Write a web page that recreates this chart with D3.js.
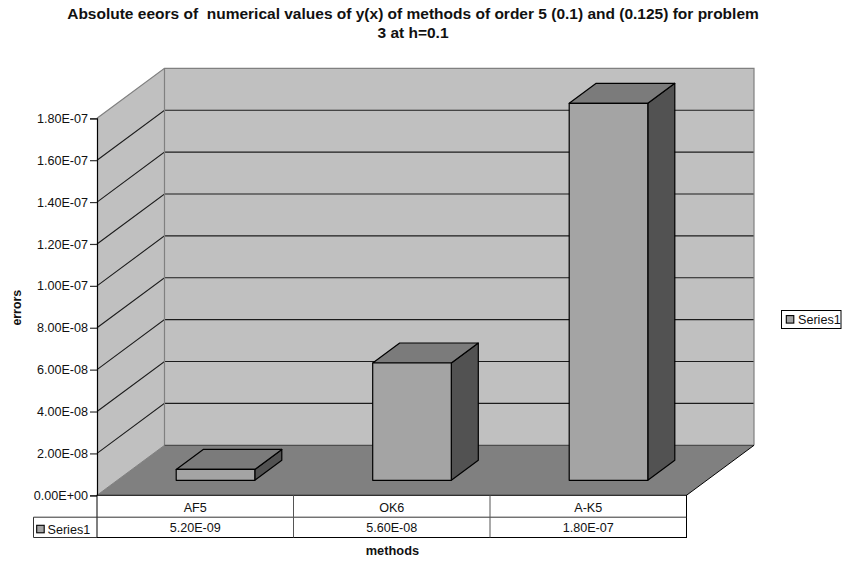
<!DOCTYPE html>
<html>
<head>
<meta charset="utf-8">
<script src="https://cdn.jsdelivr.net/npm/d3@7/dist/d3.min.js"></script>
<style>
  html, body { margin: 0; padding: 0; background: #fff; }
  svg { display: block; }
  text { font-family: "Liberation Sans", Arial, sans-serif; fill: #111; }
</style>
</head>
<body>
<svg id="chart" width="842" height="561"></svg>
<script>
// Chart content
const categories = ["AF5", "OK6", "A-K5"];
const seriesName = "Series1";
const seriesValues = [5.2e-9, 5.6e-8, 1.8e-7];
const yTicks = [0, 2e-8, 4e-8, 6e-8, 8e-8, 1e-7, 1.2e-7, 1.4e-7, 1.6e-7, 1.8e-7];
const titleLines = [
  "Absolute eeors of  numerical values of y(x) of methods of order 5 (0.1) and (0.125) for problem",
  "3 at h=0.1"
];
const xTitle = "methods";
const yTitle = "errors";

// Scientific notation with a two-digit exponent, e.g. 5.20E-09
function sci(v) {
  const [m, e] = v.toExponential(2).split("e");
  const n = +e;
  return m + "E" + (n < 0 ? "-" : "+") + String(Math.abs(n)).padStart(2, "0");
}

const svg = d3.select("#chart");

// Oblique projection: the front plane is at depth 0, the back wall at depth 1
const left = 97, right = 686.5, base = 495.3;
const depthX = 67.5, depthY = -50;
const yMax = yTicks[yTicks.length - 1];
const x = d3.scaleBand().domain(categories).range([left, right]).paddingInner(0).paddingOuter(0);
const y = d3.scaleLinear().domain([0, yMax]).range([base, 118.3]);
const project = (px, py, d) => [px + depthX * d, py + depthY * d];
const poly = pts => pts.map(p => p.join(",")).join(" ");

const wall = "#c0c0c0", floor = "#808080", edge = "#808080", grid = "#1c1c1c";
const textSize = 12.6;

// Side wall
svg.append("polygon")
  .attr("points", poly([project(left, y(0), 0), project(left, y(yMax), 0), project(left, y(yMax), 1), project(left, y(0), 1)]))
  .attr("fill", wall);

// Back wall
svg.append("polygon")
  .attr("points", poly([project(left, y(0), 1), project(left, y(yMax), 1), project(right, y(yMax), 1), project(right, y(0), 1)]))
  .attr("fill", wall);

// Floor
svg.append("polygon")
  .attr("points", poly([project(left, y(0), 0), project(left, y(0), 1), project(right, y(0), 1), project(right, y(0), 0)]))
  .attr("fill", floor);

// Grid lines run across the side wall and the back wall
const gridTicks = yTicks.filter(t => t > 0 && t < yMax);
svg.append("g").selectAll("polyline").data(gridTicks).join("polyline")
  .attr("points", t => poly([project(left, y(t), 0), project(left, y(t), 1), project(right, y(t), 1)]))
  .attr("fill", "none")
  .attr("stroke", grid)
  .attr("stroke-width", 1.1);

// Wall outlines drawn above the grid
const outline = svg.append("g").attr("fill", "none");
outline.append("polyline")
  .attr("points", poly([project(left, y(yMax), 0), project(left, y(yMax), 1), project(right, y(yMax), 1), project(right, y(0), 1)]))
  .attr("stroke", edge).attr("stroke-width", 1.2);
outline.append("line")
  .attr("x1", project(left, 0, 1)[0]).attr("x2", project(left, 0, 1)[0])
  .attr("y1", project(0, y(yMax), 1)[1]).attr("y2", project(0, y(0), 1)[1])
  .attr("stroke", edge).attr("stroke-width", 1.2);
outline.append("polyline")
  .attr("points", poly([project(left, y(0), 0), project(left, y(0), 1)]))
  .attr("stroke", edge).attr("stroke-width", 1);
outline.append("line")
  .attr("x1", project(left, 0, 1)[0]).attr("x2", project(right, 0, 1)[0])
  .attr("y1", project(0, y(0), 1)[1]).attr("y2", project(0, y(0), 1)[1])
  .attr("stroke", "#4d4d4d").attr("stroke-width", 1.2);
outline.append("line")
  .attr("x1", project(right, y(0), 0)[0]).attr("y1", project(right, y(0), 0)[1])
  .attr("x2", project(right, y(0), 1)[0]).attr("y2", project(right, y(0), 1)[1])
  .attr("stroke", "#000").attr("stroke-width", 1);

// Bars: each occupies the middle 40% of its slot in width and in depth
const barD0 = 0.3, barD1 = 0.7;
const barW = x.bandwidth() * 0.4;
const bars = svg.append("g").attr("stroke", "#000").attr("stroke-width", 1.2).attr("stroke-linejoin", "round");
categories.forEach((c, i) => {
  const x0 = x(c) + (x.bandwidth() - barW) / 2, x1 = x0 + barW;
  const yb = y(0), yt = y(seriesValues[i]);
  bars.append("polygon")
    .attr("points", poly([project(x1, yb, barD0), project(x1, yt, barD0), project(x1, yt, barD1), project(x1, yb, barD1)]))
    .attr("fill", "#525252");
  bars.append("polygon")
    .attr("points", poly([project(x0, yt, barD0), project(x0, yt, barD1), project(x1, yt, barD1), project(x1, yt, barD0)]))
    .attr("fill", "#7b7b7b");
  bars.append("polygon")
    .attr("points", poly([project(x0, yb, barD0), project(x0, yt, barD0), project(x1, yt, barD0), project(x1, yb, barD0)]))
    .attr("fill", "#a4a4a4");
});

// Value axis on the front-left edge
const axis = d3.axisLeft(y).tickValues(yTicks).tickFormat(sci).tickSize(7).tickPadding(2);
const axisG = svg.append("g").attr("transform", `translate(${left},0)`).call(axis);
axisG.select(".domain").attr("stroke", "#000").attr("stroke-width", 1.2);
axisG.selectAll(".tick line").attr("stroke", "#333").attr("stroke-width", 1.2);
axisG.selectAll(".tick text").attr("font-size", textSize).style("font-family", '"Liberation Sans", Arial, sans-serif');

// Data table under the floor
const tableRows = [base, 517.2, 537.5];
const tableLeft = 33.5;
const table = svg.append("g").attr("fill", "none").attr("stroke", "#000").attr("stroke-width", 1);
table.append("rect").attr("x", left).attr("y", tableRows[0]).attr("width", right - left).attr("height", tableRows[2] - tableRows[0]).attr("fill", "#fff");
table.append("line").attr("x1", left).attr("x2", right).attr("y1", tableRows[1]).attr("y2", tableRows[1]).attr("stroke", "#333");
categories.slice(1).forEach(c => {
  table.append("line").attr("x1", x(c)).attr("x2", x(c)).attr("y1", tableRows[0]).attr("y2", tableRows[2]).attr("stroke", "#555");
});
table.append("polyline")
  .attr("points", poly([[left, tableRows[1]], [tableLeft, tableRows[1]], [tableLeft, tableRows[2]], [left, tableRows[2]]]))
  .attr("stroke", "#333");

const cellText = svg.append("g").attr("font-size", textSize).attr("text-anchor", "middle");
categories.forEach((c, i) => {
  const cx = x(c) + x.bandwidth() / 2;
  cellText.append("text").attr("x", cx).attr("y", 511.5).text(c);
  cellText.append("text").attr("x", cx).attr("y", 532).text(sci(seriesValues[i]));
});

// Series key inside the table and in the legend
function swatch(g, sx, sy) {
  g.append("rect").attr("x", sx).attr("y", sy).attr("width", 7.5).attr("height", 7.5)
    .attr("fill", "#a4a4a4").attr("stroke", "#000").attr("stroke-width", 1.1);
}
swatch(svg, 36.7, 525.3);
svg.append("text").attr("x", 47.5).attr("y", 534).attr("font-size", textSize).text(seriesName);

svg.append("rect").attr("x", 781.5).attr("y", 310.5).attr("width", 59.5).attr("height", 18)
  .attr("fill", "#fff").attr("stroke", "#000").attr("stroke-width", 1);
swatch(svg, 786.3, 315.6);
svg.append("text").attr("x", 798).attr("y", 324).attr("font-size", textSize).text(seriesName);

// Titles
svg.append("g").attr("font-size", 15.5).attr("font-weight", "bold").attr("text-anchor", "middle")
  .selectAll("text").data(titleLines).join("text")
  .attr("x", 413).attr("y", (d, i) => 19.4 + i * 18.6).text(d => d)
  .style("white-space", "pre");
svg.append("text").attr("x", 392.4).attr("y", 555.3).attr("font-size", 12.8).attr("font-weight", "bold")
  .attr("text-anchor", "middle").text(xTitle);
svg.append("text").attr("transform", "translate(20.5,307.7) rotate(-90)").attr("font-size", 12.4).attr("font-weight", "bold")
  .attr("text-anchor", "middle").text(yTitle);
</script>
</body>
</html>
